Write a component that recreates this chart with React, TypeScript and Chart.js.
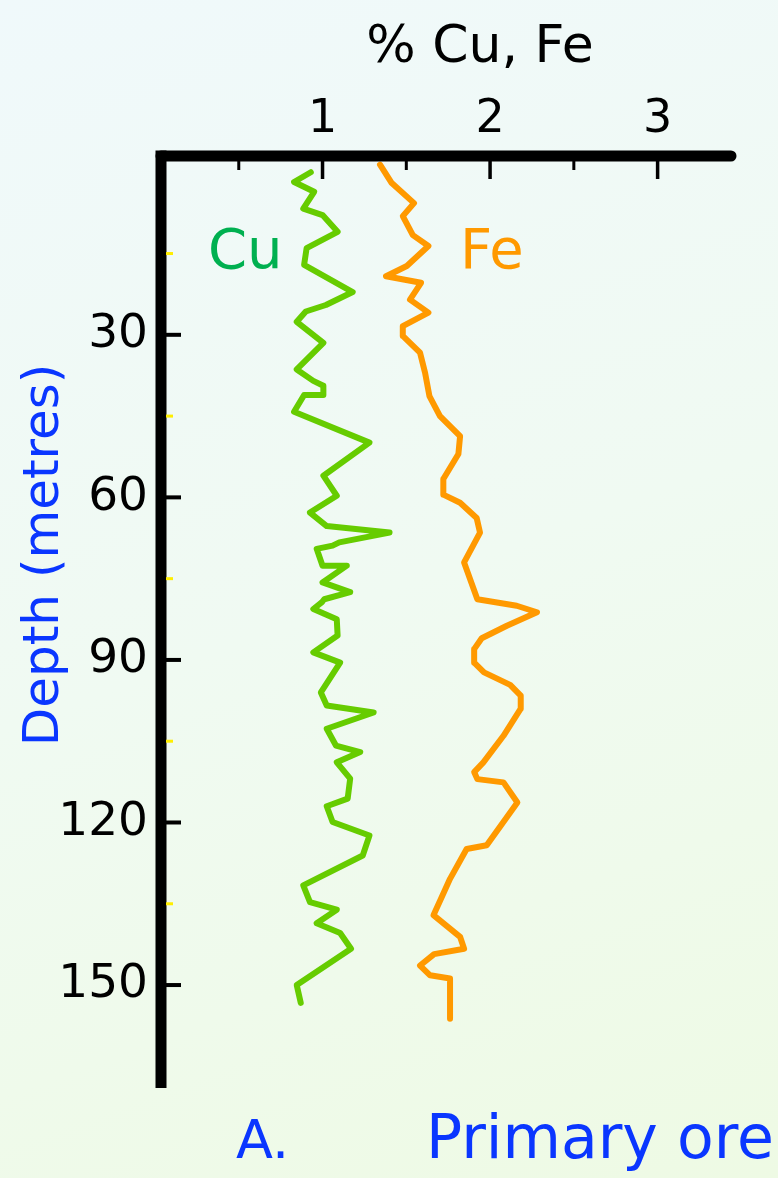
import React, { useEffect, useRef } from 'react';
import { Chart, registerables } from 'chart.js';

Chart.register(...registerables);

// ---- data (depth in metres, grade in %) ----
const cuDepth = [0, 1.8, 3.6, 6.7, 7.9, 11.0, 14.0, 17.1, 22.1, 24.5, 25.7, 27.6, 31.5, 36.4, 38.5, 39.4, 41.1, 41.1, 44.2, 49.9,
  56.0, 59.7, 62.8, 65.3, 66.5, 68.3, 68.9, 69.5, 72.6, 72.6, 75.7, 77.5, 78.8, 79.4, 80.6, 82.5, 85.5, 88.6, 90.5, 96.0,
  98.4, 99.7, 102.7, 105.8, 107.0, 108.9, 111.9, 115.6, 117.0, 119.9, 122.4, 126.1, 131.6, 134.7, 136.1, 138.6, 140.4, 143.3, 150.0, 153.3];
const cuValue = [0.93, 0.83, 0.95, 0.885, 1.0, 1.09, 0.905, 0.89, 1.18, 1.02, 0.9, 0.846, 1.005, 0.846, 0.945, 1.005, 1.005, 0.89, 0.83, 1.28,
  1.005, 1.085, 0.925, 1.025, 1.4, 1.1, 1.06, 0.965, 1.0, 1.145, 1.0, 1.165, 1.01, 0.995, 0.945, 1.085, 1.09, 0.945, 1.105, 0.99,
  1.025, 1.305, 1.025, 1.08, 1.225, 1.085, 1.165, 1.15, 1.025, 1.06, 1.28, 1.24, 0.885, 0.925, 1.085, 0.965, 1.105, 1.17, 0.846, 0.87];

const feDepth = [-1.4, 2.0, 5.7, 8.1, 11.6, 13.6, 17.3, 19.2, 20.4, 23.5, 25.9, 28.4, 30.2, 33.3, 37.0, 41.3, 45.0, 48.7, 52.0, 56.6,
  59.5, 61.0, 63.8, 66.5, 72.0, 78.8, 80.0, 81.2, 83.7, 86.0, 88.0, 90.5, 92.3, 94.6, 96.6, 99.0, 104.0, 108.9, 110.7, 112.0,
  112.6, 116.3, 124.2, 124.9, 130.4, 133.8, 137.1, 141.1, 143.3, 144.3, 146.4, 148.2, 148.8, 156.2];
const feValue = [1.343, 1.413, 1.546, 1.479, 1.539, 1.632, 1.503, 1.379, 1.588, 1.522, 1.632, 1.479, 1.479, 1.582, 1.612, 1.638, 1.701, 1.821, 1.811, 1.721,
  1.721, 1.821, 1.92, 1.94, 1.845, 1.924, 2.159, 2.28, 2.1, 1.95, 1.905, 1.905, 1.964, 2.12, 2.183, 2.183, 2.08, 1.96, 1.905, 1.924,
  2.08, 2.163, 1.98, 1.86, 1.761, 1.711, 1.662, 1.821, 1.845, 1.666, 1.582, 1.642, 1.761, 1.761];

const xTickValues = [1, 2, 3];
const xMinorTicks = [0.5, 1.5, 2.5];
const yTickValues = [30, 60, 90, 120, 150];
const yMinorTicks = [15, 45, 75, 105, 135];

const FONT = "'DejaVu Sans', sans-serif";
const BLUE = '#0a36ff';

const decorPlugin = {
  id: 'decor',
  afterDraw(chart: any) {
    const { ctx, chartArea, scales } = chart;
    const xs = scales.x;
    const ys = scales.y;
    ctx.save();
    const axisX = xs.getPixelForValue(0) + 6;
    const axisY = chartArea.top;
    ctx.strokeStyle = '#000';
    ctx.lineWidth = 11;
    ctx.lineCap = 'round';
    ctx.beginPath();
    ctx.moveTo(axisX, axisY);
    ctx.lineTo(chartArea.right - 2, axisY);
    ctx.stroke();
    ctx.lineCap = 'butt';
    ctx.beginPath();
    ctx.moveTo(axisX, axisY - 5.5);
    ctx.lineTo(axisX, chartArea.bottom);
    ctx.stroke();

    // x ticks (inside)
    ctx.lineWidth = 3.5;
    xTickValues.forEach((v) => {
      const px = xs.getPixelForValue(v);
      ctx.beginPath();
      ctx.moveTo(px, axisY + 5);
      ctx.lineTo(px, axisY + 23);
      ctx.stroke();
    });
    ctx.lineWidth = 3;
    xMinorTicks.forEach((v) => {
      const px = xs.getPixelForValue(v);
      ctx.beginPath();
      ctx.moveTo(px, axisY + 5);
      ctx.lineTo(px, axisY + 14);
      ctx.stroke();
    });
    // y ticks
    ctx.lineWidth = 4;
    yTickValues.forEach((v) => {
      const py = ys.getPixelForValue(v);
      ctx.beginPath();
      ctx.moveTo(axisX + 5, py);
      ctx.lineTo(axisX + 20, py);
      ctx.stroke();
    });
    ctx.strokeStyle = '#ffee00';
    ctx.lineWidth = 3;
    yMinorTicks.forEach((v) => {
      const py = ys.getPixelForValue(v);
      ctx.beginPath();
      ctx.moveTo(axisX + 5, py);
      ctx.lineTo(axisX + 12, py);
      ctx.stroke();
    });

    // texts
    ctx.textBaseline = 'alphabetic';
    ctx.fillStyle = '#000';
    ctx.font = `52px ${FONT}`;
    ctx.textAlign = 'center';
    ctx.fillText('% Cu, Fe', 480, 62);

    ctx.textAlign = 'left';
    ctx.fillStyle = '#00b050';
    ctx.font = `56px ${FONT}`;
    ctx.fillText('Cu', 208, 268);
    ctx.fillStyle = '#ff9900';
    ctx.fillText('Fe', 460, 268);

    ctx.fillStyle = BLUE;
    ctx.font = `54px ${FONT}`;
    ctx.fillText('A.', 236, 1158);
    ctx.font = `60px ${FONT}`;
    ctx.fillText('Primary ore', 426, 1158);

    ctx.save();
    ctx.translate(58, 555);
    ctx.rotate(-Math.PI / 2);
    ctx.textAlign = 'center';
    ctx.font = `50px ${FONT}`;
    ctx.fillText('Depth (metres)', 0, 0);
    ctx.restore();

    ctx.restore();
  },
};

export default function App() {
  const canvasRef = useRef<HTMLCanvasElement | null>(null);

  useEffect(() => {
    if (!canvasRef.current) return;
    const chart = new Chart(canvasRef.current, {
      type: 'scatter',
      data: {
        datasets: [
          {
            label: 'Cu',
            data: cuDepth.map((d, i) => ({ x: cuValue[i], y: d })),
            showLine: true,
            borderColor: '#66cc00',
            backgroundColor: '#66cc00',
            borderWidth: 6,
            pointRadius: 0,
            borderJoinStyle: 'round',
            borderCapStyle: 'round',
            tension: 0,
          },
          {
            label: 'Fe',
            data: feDepth.map((d, i) => ({ x: feValue[i], y: d })),
            showLine: true,
            borderColor: '#ff9900',
            backgroundColor: '#ff9900',
            borderWidth: 6,
            pointRadius: 0,
            borderJoinStyle: 'round',
            borderCapStyle: 'round',
            tension: 0,
          },
        ],
      },
      options: {
        responsive: false,
        animation: false,
        events: [],
        layout: { padding: { left: 0, top: 0, right: 45, bottom: 90 } },
        plugins: { legend: { display: false }, tooltip: { enabled: false } },
        scales: {
          x: {
            type: 'linear',
            position: 'top',
            min: 0,
            max: 3.45,
            grid: { display: false, drawTicks: false },
            border: { display: false },
            ticks: { font: { family: FONT, size: 46 }, color: '#000', padding: 8, maxRotation: 0 },
            afterBuildTicks: (s: any) => {
              s.ticks = xTickValues.map((v) => ({ value: v }));
            },
            afterFit: (s: any) => {
              s.height = 156;
            },
          },
          y: {
            type: 'linear',
            reverse: true,
            min: -3,
            max: 169,
            grid: { display: false, drawTicks: false },
            border: { display: false },
            ticks: { font: { family: FONT, size: 47 }, color: '#000', padding: 7 },
            afterBuildTicks: (s: any) => {
              s.ticks = yTickValues.map((v) => ({ value: v }));
            },
            afterFit: (s: any) => {
              s.width = 155;
            },
          },
        },
      } as any,
      plugins: [decorPlugin],
    });
    return () => chart.destroy();
  }, []);

  return (
    <div
      style={{
        position: 'fixed',
        left: 0,
        top: 0,
        width: 778,
        height: 1178,
        background: 'linear-gradient(160deg, #f0f9fb 0%, #f0faf2 50%, #eefae4 100%)',
      }}
    >
      <canvas ref={canvasRef} width={778} height={1178} style={{ display: 'block', width: 778, height: 1178 }} />
    </div>
  );
}
